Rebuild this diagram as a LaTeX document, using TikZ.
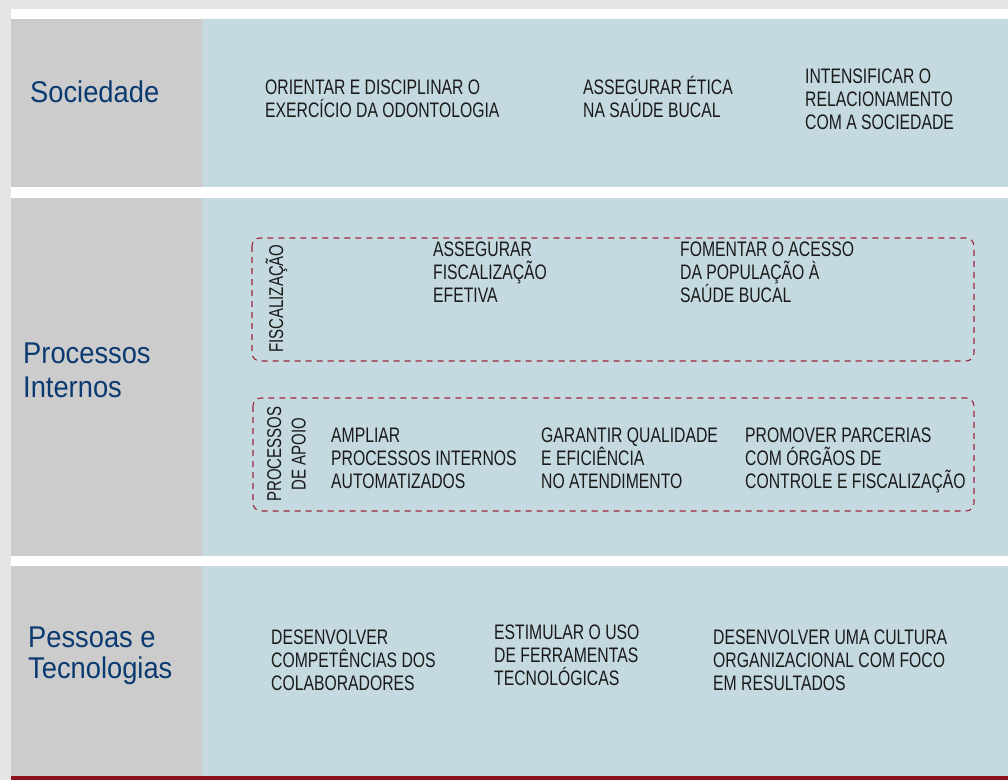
\documentclass[tikz,border=0pt]{standalone}
\usepackage{fontspec}
\usepackage{tikz}
\usepackage{xcolor}
\newfontfamily\headfont{Liberation Sans}[FakeStretch=0.91]
\newfontfamily\bodyfont{Liberation Sans}[FakeStretch=0.75]
\definecolor{pagegray}{RGB}{229,229,229}
\definecolor{labelgray}{RGB}{204,204,204}
\definecolor{paleblue}{RGB}{197,217,225}
\definecolor{navy}{RGB}{10,58,112}
\definecolor{wine}{RGB}{139,17,29}
\definecolor{dashred}{RGB}{158,38,58}
\definecolor{ink}{RGB}{26,26,26}
\tikzset{
  heading/.style={anchor=base west, inner sep=0pt, align=left, text=navy,
    font=\headfont\fontsize{30}{34}\selectfont},
  objective/.style={anchor=base west, inner sep=0pt, align=left, text=ink,
    font=\bodyfont\fontsize{21}{23.4}\selectfont},
  groupbox/.style={draw=dashred, line width=1.1pt, dash pattern=on 6pt off 5pt,
    rounded corners=8pt},
  grouplabel/.style={objective, rotate=90, align=center,
    font=\bodyfont\fontsize{20}{24.5}\selectfont}
}

\begin{document}
\begin{tikzpicture}[x=1pt, y=-1pt]
  % Draw page and bands.
  \fill [pagegray] (0, 0) rectangle (1008, 780);
  \fill [white] (11, 9) rectangle (1008, 776);
  \fill [labelgray] (11, 19) rectangle (202, 187);
  \fill [paleblue] (202, 19) rectangle (1008, 187);
  \fill [labelgray] (11, 198) rectangle (202, 556);
  \fill [paleblue] (202, 198) rectangle (1008, 556);
  \fill [labelgray] (11, 566) rectangle (202, 776);
  \fill [paleblue] (202, 566) rectangle (1008, 776);
  \fill [wine] (11, 776) rectangle (1008, 780);

  % Row headings (anchored on the last line).
  \node [heading] (sociedade) at (30, 102) {Sociedade};
  \node [heading] (processos) at (23, 397) {Processos\\Internos};
  \node [heading, font=\headfont\fontsize{30}{31}\selectfont] (pessoas)
        at (28, 678) {Pessoas e\\Tecnologias};

  % Sociedade.
  \node [objective] (orientar) at (265, 117.4)
        {ORIENTAR E DISCIPLINAR O\\EXERCÍCIO DA ODONTOLOGIA};
  \node [objective] (etica) at (583, 117.4) {ASSEGURAR ÉTICA\\NA SAÚDE BUCAL};
  \node [objective] (intensificar) at (805, 129.8)
        {INTENSIFICAR O\\RELACIONAMENTO\\COM A SOCIEDADE};

  % Processos internos: fiscalização.
  \draw [groupbox] (252, 238) rectangle (974, 361);
  \node [grouplabel] (fiscalizacao) at (283, 353) {FISCALIZAÇÃO};
  \node [objective] (assegurar) at (433, 302.8)
        {ASSEGURAR\\FISCALIZAÇÃO\\EFETIVA};
  \node [objective] (fomentar) at (680, 302.8)
        {FOMENTAR O ACESSO\\DA POPULAÇÃO À\\SAÚDE BUCAL};

  % Processos internos: apoio.
  \draw [groupbox] (253, 398) rectangle (974, 511);
  \node [grouplabel, anchor=north] (apoio) at (267, 454) {PROCESSOS\\DE APOIO};
  \node [objective] (ampliar) at (331, 488.8)
        {AMPLIAR\\PROCESSOS INTERNOS\\AUTOMATIZADOS};
  \node [objective] (garantir) at (541, 488.8)
        {GARANTIR QUALIDADE\\E EFICIÊNCIA\\NO ATENDIMENTO};
  \node [objective] (promover) at (745, 488.8)
        {PROMOVER PARCERIAS\\COM ÓRGÃOS DE\\CONTROLE E FISCALIZAÇÃO};

  % Pessoas e tecnologias.
  \node [objective] (competencias) at (271, 690.8)
        {DESENVOLVER\\COMPETÊNCIAS DOS\\COLABORADORES};
  \node [objective] (ferramentas) at (494, 685.8)
        {ESTIMULAR O USO\\DE FERRAMENTAS\\TECNOLÓGICAS};
  \node [objective] (cultura) at (713, 690.8)
        {DESENVOLVER UMA CULTURA\\ORGANIZACIONAL COM FOCO\\EM RESULTADOS};
\end{tikzpicture}
\end{document}
